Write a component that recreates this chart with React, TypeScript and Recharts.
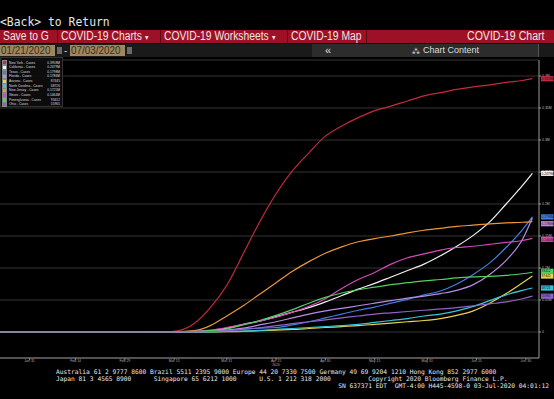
import React from "react";
import { CartesianGrid, Line, LineChart, XAxis, YAxis } from "recharts";

// days since 01/21/2020
const days = [0, 10, 24, 39, 45, 50, 55, 60, 65, 70, 75, 80, 85, 90, 95, 100, 105, 110, 115, 120, 125, 130, 135, 140, 145, 150, 155, 160, 163];

const newYork = [0, 0, 0, 0, 0, 0, 2000, 13000, 38000, 73000, 122000, 172000, 216000, 252000, 280000, 306000, 322000, 335000, 346000, 353000, 361000, 369000, 374000, 379000, 383000, 386000, 390000, 393000, 395800];
const california = [0, 0, 0, 0, 0, 200, 400, 1000, 2000, 6000, 12000, 17000, 24000, 31000, 38000, 47000, 57000, 67000, 76000, 86000, 96000, 106000, 119000, 134000, 151000, 172000, 200000, 229000, 247900];
const texas = [0, 0, 0, 0, 0, 0, 100, 300, 1000, 2500, 4500, 6000, 7000, 11000, 16000, 22000, 28000, 34000, 39000, 45000, 51000, 58000, 64000, 75000, 90000, 108000, 132000, 160000, 179800];
const florida = [0, 0, 0, 0, 0, 0, 100, 500, 1500, 3000, 6000, 11000, 16000, 22000, 28000, 33000, 37000, 41000, 45000, 49000, 53000, 56000, 60000, 65000, 74000, 90000, 112000, 145000, 178600];
const arizona = [0, 0, 0, 0, 0, 0, 0, 50, 200, 500, 1000, 2000, 3000, 4000, 5500, 7000, 8500, 10000, 12000, 14000, 16000, 18000, 21000, 26000, 33000, 45000, 60000, 77000, 87445];
const northCarolina = [0, 0, 0, 0, 0, 0, 0, 100, 300, 800, 1500, 2500, 4000, 5500, 7000, 8500, 10000, 12000, 15000, 18000, 21000, 25000, 28000, 33000, 40000, 49000, 58000, 65000, 68726];
const newJersey = [0, 0, 0, 0, 0, 0, 500, 2000, 10000, 25000, 41000, 59000, 77000, 95000, 110000, 123000, 133000, 141000, 146000, 150000, 155000, 159000, 162000, 165000, 167000, 169000, 170500, 171500, 172500];
const illinois = [0, 0, 0, 0, 0, 0, 200, 1000, 3000, 7000, 12000, 17000, 23000, 31000, 40000, 52000, 68000, 82000, 93000, 106000, 116000, 122000, 128000, 132000, 134000, 137000, 140000, 143000, 146400];
const pennsylvania = [0, 0, 0, 0, 0, 0, 100, 500, 2000, 5000, 11000, 18000, 26000, 35000, 45000, 54000, 61000, 66000, 70000, 74000, 77000, 80000, 82000, 84500, 86000, 87000, 88500, 91000, 93412];
const ohio = [0, 0, 0, 0, 0, 0, 0, 200, 800, 2000, 4000, 6500, 10000, 13000, 16000, 19000, 22000, 25000, 28000, 30000, 32000, 34000, 36000, 38000, 41000, 44000, 47000, 52000, 55965];

const seriesNames = ["New York", "California", "Texas", "Florida", "Arizona", "North Carolina", "New Jersey", "Illinois", "Pennsylvania", "Ohio"];
const seriesValues = [newYork, california, texas, florida, arizona, northCarolina, newJersey, illinois, pennsylvania, ohio];
const lastLabels = ["0.3958M", "0.2479M", "0.1798M", "0.1786M", "87445", "68726", "0.1725M", "0.1464M", "93412", "55965"];

const xTickDays = [10, 24, 39, 54, 70, 85, 100, 115, 131, 146, 161];
const xTickLabels = ["Jan 31", "Feb 14", "Feb 29", "Mar 15", "Mar 31", "Apr 15", "Apr 30", "May 15", "May 31", "Jun 15", "Jun 30"];
const yTicks = [0, 50000, 100000, 150000, 200000, 250000, 300000, 350000, 400000];
const yTickLabels = ["0", "0.05M", "0.1M", "0.15M", "0.2M", "0.25M", "0.3M", "0.35M", "0.4M"];

const colors = ["#c22a3e", "#f2f2f2", "#3f7fe0", "#b98ae6", "#e8d44c", "#36c6da", "#eb9638", "#d848b8", "#52d060", "#9262cc"];
const labelNudge = [0, 0, 0, 6, 0, 0, 0, 1, -1, 0, 2];
const hideLabel = [false, false, false, false, false, false, true, false, false, false];

const keys = ["s0", "s1", "s2", "s3", "s4", "s5", "s6", "s7", "s8", "s9"];
const data = days.map((day, i) => {
  const row: Record<string, number> = { day };
  seriesValues.forEach((vals, s) => (row[keys[s]] = vals[i]));
  return row;
});

const CHART_W = 554;
const Y_AXIS_W = 15;
const mono = "'DejaVu Sans Mono', monospace";
const sans = "'Liberation Sans', Arial, sans-serif";

// the terminal font is condensed; squeeze a regular sans to match
const Narrow = ({ children, scale = 0.86 }: { children: React.ReactNode; scale?: number }) => (
  <span style={{ display: "inline-block", transform: `scaleX(${scale})`, transformOrigin: "left center", whiteSpace: "pre" }}>
    {children}
  </span>
);

function XTick({ x, y, payload }: any) {
  const label = xTickLabels[xTickDays.indexOf(payload.value)];
  return (
    <g>
      <text x={x} y={y + 2.3} textAnchor="middle" fontSize={3.5} fill="#aaa" fontFamily={sans}>
        {label}
      </text>
      {label === "Apr 15" && (
        <text x={x} y={y + 6.3} textAnchor="middle" fontSize={3.5} fill="#aaa" fontFamily={sans}>
          2020
        </text>
      )}
    </g>
  );
}

function YTick({ x, y, payload }: any) {
  const label = yTickLabels[yTicks.indexOf(payload.value)];
  return (
    <text x={x + 1} y={y + 1.3} fontSize={3.5} fill="#bbb" fontFamily={sans}>
      {label}
    </text>
  );
}

const endLabel = (s: number) => (props: any) => {
  const { y, index } = props;
  if (index !== days.length - 1 || hideLabel[s]) return null;
  const lx = CHART_W - Y_AXIS_W + 2;
  const ly = y + labelNudge[s];
  return (
    <g>
      <rect x={lx} y={ly - 2.6} width={12.5} height={5.2} fill={colors[s]} />
      <text x={lx + 0.6} y={ly + 1.2} fontSize={3.2} fill="#111" fontFamily={sans}>
        {lastLabels[s]}
      </text>
    </g>
  );
};

function Header() {
  const seg = (left: number, width: number, text: React.ReactNode) => (
    <div
      style={{
        position: "absolute",
        left,
        width,
        top: 0,
        height: 13,
        lineHeight: "13px",
        fontSize: 12,
        fontFamily: sans,
        color: "#f3e2e2",
        borderRight: "1px solid #5c0812",
        paddingLeft: 3,
        boxSizing: "border-box",
        whiteSpace: "pre",
        overflow: "hidden",
      }}
    >
      <Narrow>{text}</Narrow>
    </div>
  );
  return (
    <>
      <div
        style={{
          position: "absolute",
          left: 0,
          top: 14,
          fontFamily: mono,
          fontSize: 11.4,
          lineHeight: "16px",
          color: "#e6e6e6",
          whiteSpace: "pre",
        }}
      >
        {"<Back> to Return"}
      </div>
      <div style={{ position: "absolute", left: 0, top: 30, width: 554, height: 13, background: "#9c1126" }}>
        {seg(0, 58, "Save to G")}
        {seg(58, 103, <>COVID-19 Charts <span style={{ fontSize: 8 }}>▾</span></>)}
        {seg(161, 127, <>COVID-19 Worksheets <span style={{ fontSize: 8 }}>▾</span></>)}
        {seg(288, 79, "COVID-19 Map")}
        <div
          style={{
            position: "absolute",
            left: 467,
            top: 0,
            lineHeight: "13px",
            fontSize: 12,
            fontFamily: sans,
            color: "#f3e2e2",
          }}
        >
          <Narrow scale={0.88}>COVID-19 Chart</Narrow>
        </div>
      </div>
      <div style={{ position: "absolute", left: 0, top: 44, width: 554, height: 13, background: "#1a1a1a" }}>
        {[0, 70].map((l, i) => (
          <React.Fragment key={l}>
            <div
              style={{
                position: "absolute",
                left: l,
                top: 1,
                width: 55,
                height: 11,
                background: "#9e875f",
                color: "#3b2c18",
                fontFamily: sans,
                fontSize: 11,
                lineHeight: "11px",
                paddingLeft: 1,
                boxSizing: "border-box",
              }}
            >
              <Narrow scale={0.9}>{i === 0 ? "01/21/2020" : "07/03/2020"}</Narrow>
            </div>
            <div style={{ position: "absolute", left: l + 57, top: 3, width: 5, height: 7, background: "#6a6a6a" }} />
          </React.Fragment>
        ))}
        <div style={{ position: "absolute", left: 64, top: 0, color: "#ccc", fontSize: 10, lineHeight: "13px", fontFamily: sans }}>-</div>
        <div style={{ position: "absolute", left: 312, top: 0, width: 226, height: 13, background: "#2c2c2c" }} />
        <div style={{ position: "absolute", left: 325, top: 0, color: "#ddd", fontSize: 11, lineHeight: "12px", fontFamily: sans }}>«</div>
        <div style={{ position: "absolute", left: 412, top: 0, color: "#ddd", fontSize: 9, lineHeight: "13px", fontFamily: sans }}>
          <span style={{ fontSize: 7, marginRight: 3 }}>⁂</span>Chart Content
        </div>
        <div style={{ position: "absolute", left: 538, top: 0, width: 1, height: 13, background: "#555" }} />
      </div>
    </>
  );
}

function Legend() {
  return (
    <div
      style={{
        position: "absolute",
        left: 0,
        top: 57,
        width: 63,
        height: 50,
        background: "rgba(14,14,14,0.88)",
        border: "1px solid #333",
        boxSizing: "border-box",
        paddingTop: 2.5,
      }}
    >
      {seriesNames.map((n, i) => (
        <div key={n} style={{ position: "relative", height: 4.67, fontFamily: sans, fontSize: 3.3, lineHeight: "4.67px", color: "#ddd" }}>
          <span
            style={{
              position: "absolute",
              left: 2,
              top: 0.7,
              width: 3.2,
              height: 3.2,
              background: colors[i],
              outline: "0.5px solid #888",
            }}
          />
          <span style={{ position: "absolute", left: 8 }}>{n} - Cases</span>
          <span style={{ position: "absolute", right: 2 }}>{lastLabels[i]}</span>
        </div>
      ))}
    </div>
  );
}

function Footer() {
  const lines = [
    "Australia 61 2 9777 8600 Brazil 5511 2395 9000 Europe 44 20 7330 7500 Germany 49 69 9204 1210 Hong Kong 852 2977 6000",
    "Japan 81 3 4565 8900      Singapore 65 6212 1000      U.S. 1 212 318 2000          Copyright 2020 Bloomberg Finance L.P.",
    " ".repeat(75) + "SN 637371 EDT  GMT-4:00 H445-4598-0 03-Jul-2020 04:01:12",
  ];
  return (
    <div
      style={{
        position: "absolute",
        left: 56,
        top: 368,
        fontFamily: mono,
        fontSize: 6.25,
        lineHeight: "7px",
        color: "#e8e8e8",
        whiteSpace: "pre",
      }}
    >
      {lines.map((l, i) => (
        <div key={i}>{l}</div>
      ))}
    </div>
  );
}

export default function App() {
  return (
    <div style={{ position: "absolute", left: 0, top: 0, width: 554, height: 399, background: "#000", overflow: "hidden" }}>
      <Header />
      <div style={{ position: "absolute", left: 0, top: 57 }}>
        <LineChart width={CHART_W} height={313} data={data} margin={{ top: 3, right: 0, left: 0, bottom: 0 }}>
          <CartesianGrid vertical={false} stroke="#353535" strokeWidth={1} />
          <XAxis
            type="number"
            dataKey="day"
            domain={[1, 165]}
            allowDataOverflow
            ticks={xTickDays}
            interval={0}
            height={12}
            tickSize={2}
            tickMargin={0}
            stroke="#8a8a8a"
            tick={<XTick />}
          />
          <YAxis
            orientation="right"
            width={Y_AXIS_W}
            domain={[-40625, 425000]}
            allowDataOverflow
            ticks={yTicks}
            interval={0}
            tickSize={2}
            tickMargin={0}
            stroke="#9a9a9a"
            tick={<YTick />}
          />
          {keys.map((k, s) => (
            <Line
              key={k}
              type="monotone"
              dataKey={k}
              stroke={colors[s]}
              strokeWidth={1.2}
              dot={false}
              activeDot={false}
              isAnimationActive={false}
              label={endLabel(s)}
            />
          ))}
        </LineChart>
      </div>
      <Legend />
      <Footer />
    </div>
  );
}
